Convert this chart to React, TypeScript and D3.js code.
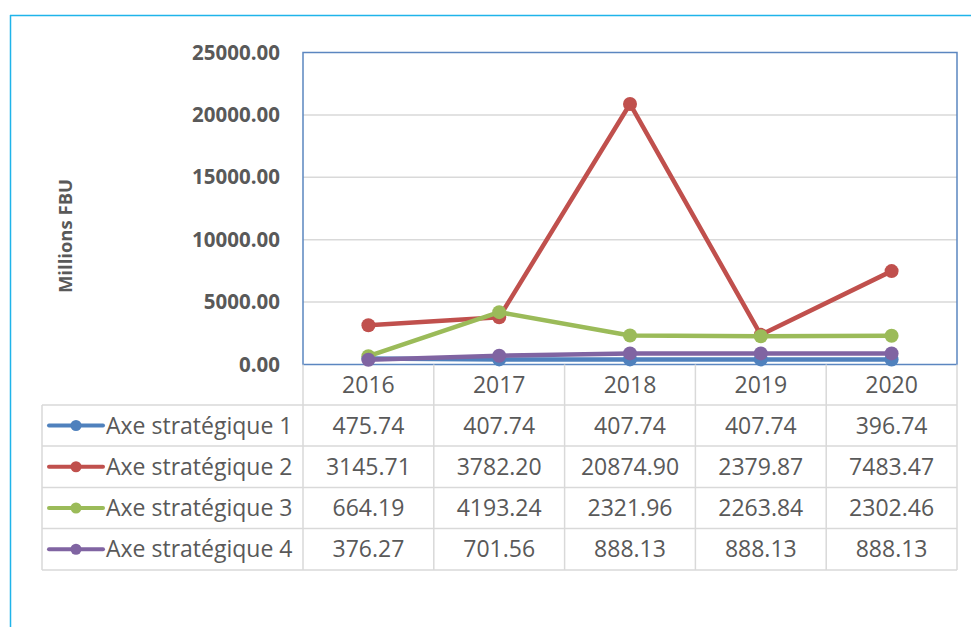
import React from "react";
import { scaleLinear, scaleBand, line } from "d3";

const years = ["2016", "2017", "2018", "2019", "2020"];
const seriesNames = ["Axe stratégique 1", "Axe stratégique 2", "Axe stratégique 3", "Axe stratégique 4"];
const axe1 = [475.74, 407.74, 407.74, 407.74, 396.74];
const axe2 = [3145.71, 3782.2, 20874.9, 2379.87, 7483.47];
const axe3 = [664.19, 4193.24, 2321.96, 2263.84, 2302.46];
const axe4 = [376.27, 701.56, 888.13, 888.13, 888.13];
const colors = ["#4F81BD", "#C0504D", "#9BBB59", "#8064A2"];
const yTicks = [0, 5000, 10000, 15000, 20000, 25000];

const font = "'Open Sans', sans-serif";
const textColor = "#595959";
const grid = "#d9d9d9";

const App = () => {
  const width = 971;
  const height = 627;
  const left = 303;
  const right = 957;
  const top = 52.5;
  const bottom = 364.5;
  const tableLeft = 42;
  const rowEdges = [364.5, 405, 446, 487.5, 528.5, 570];

  const x = scaleBand().domain(years).range([left, right]);
  const y = scaleLinear().domain([0, 25000]).range([bottom, top]);
  const data = [axe1, axe2, axe3, axe4];
  const path = line<number>()
    .x((_, i) => x(years[i])! + x.bandwidth() / 2)
    .y((d) => y(d));

  const colEdges = [left, ...years.map((yr) => x(yr)! + x.bandwidth())];

  return (
    <svg
      width={width}
      height={height}
      style={{ position: "absolute", left: 0, top: 0, background: "#fff" }}
    >
      {/* outer frame */}
      <line x1={10} x2={width} y1={15.5} y2={15.5} stroke="#1fb4ea" strokeWidth={1.5} />
      <line x1={10.5} x2={10.5} y1={15} y2={height} stroke="#1fb4ea" strokeWidth={1.5} />

      {/* gridlines */}
      {yTicks.slice(1, -1).map((t) => (
        <line key={t} x1={left} x2={right} y1={y(t)} y2={y(t)} stroke={grid} strokeWidth={1.5} />
      ))}
      {yTicks.map((t) => (
        <text
          key={t}
          x={280}
          y={y(t)}
          dy="0.35em"
          textAnchor="end"
          fontFamily={font}
          fontWeight="bold"
          fontSize={20.5}
          fill={textColor}
        >
          {t.toFixed(2)}
        </text>
      ))}
      <text
        transform="translate(72,236) rotate(-90)"
        textAnchor="middle"
        fontFamily={font}
        fontWeight="bold"
        fontSize={18.5}
        fill={textColor}
      >
        Millions FBU
      </text>

      {/* plot border */}
      <rect x={left} y={top} width={right - left} height={bottom - top} fill="none" stroke="#5b86c0" strokeWidth={1.5} />

      {/* table grid */}
      {rowEdges.slice(1).map((ry) => (
        <line key={ry} x1={tableLeft} x2={right} y1={ry} y2={ry} stroke={grid} strokeWidth={1.5} />
      ))}
      {colEdges.map((cx) => (
        <line key={cx} x1={cx} x2={cx} y1={bottom} y2={570} stroke={grid} strokeWidth={1.5} />
      ))}
      <line x1={tableLeft} x2={tableLeft} y1={405} y2={570} stroke={grid} strokeWidth={1.5} />

      {years.map((yr) => (
        <text
          key={yr}
          x={x(yr)! + x.bandwidth() / 2}
          y={(rowEdges[0] + rowEdges[1]) / 2}
          dy="0.35em"
          textAnchor="middle"
          fontFamily={font}
          fontSize={23}
          fill={textColor}
        >
          {yr}
        </text>
      ))}

      {data.map((vals, s) => {
        const cy = (rowEdges[s + 1] + rowEdges[s + 2]) / 2;
        return (
          <g key={s}>
            <line x1={49} x2={103} y1={cy} y2={cy} stroke={colors[s]} strokeWidth={4} strokeLinecap="round" />
            <circle cx={76} cy={cy} r={5.5} fill={colors[s]} />
            <text x={106} y={cy} dy="0.35em" fontFamily={font} fontSize={23} fill={textColor}>
              {seriesNames[s]}
            </text>
            {vals.map((v, i) => (
              <text
                key={i}
                x={x(years[i])! + x.bandwidth() / 2}
                y={cy}
                dy="0.35em"
                textAnchor="middle"
                fontFamily={font}
                fontSize={23}
                fill={textColor}
              >
                {v.toFixed(2)}
              </text>
            ))}
          </g>
        );
      })}

      {/* series lines */}
      {data.map((vals, s) => (
        <g key={s}>
          <path d={path(vals)!} fill="none" stroke={colors[s]} strokeWidth={4.5} strokeLinejoin="round" />
          {vals.map((v, i) => (
            <circle key={i} cx={x(years[i])! + x.bandwidth() / 2} cy={y(v)} r={7} fill={colors[s]} />
          ))}
        </g>
      ))}
    </svg>
  );
};

export default App;
